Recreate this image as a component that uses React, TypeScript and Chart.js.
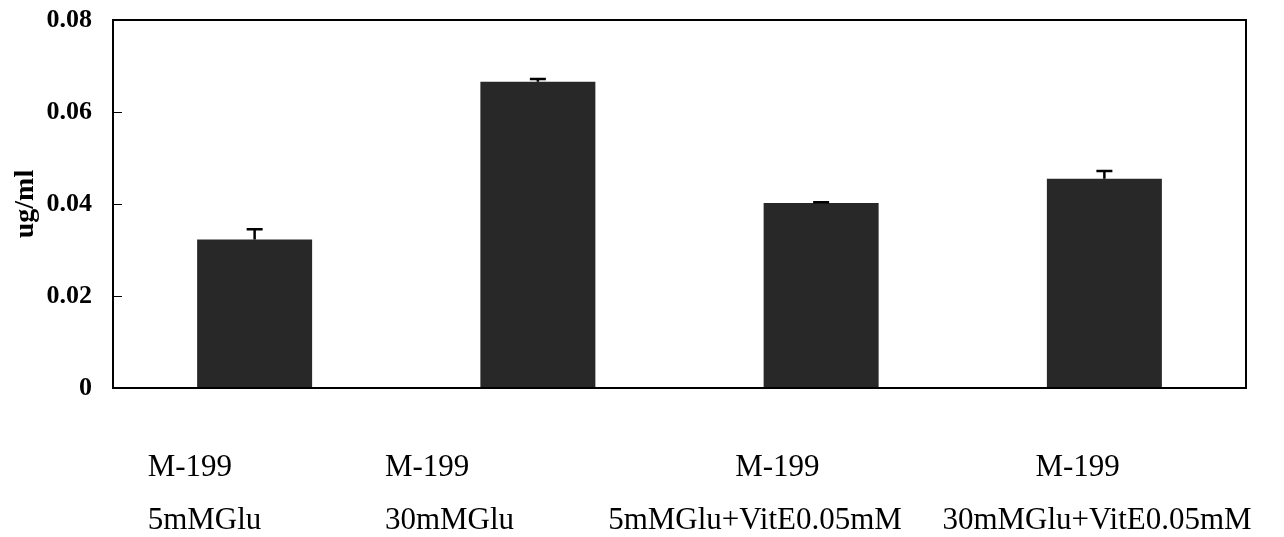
import React, { useEffect, useRef } from "react";
import { Chart, registerables } from "chart.js";

Chart.register(...registerables);

const categories: string[][] = [
  ["M-199", "5mMGlu"],
  ["M-199", "30mMGlu"],
  ["M-199", "5mMGlu+VitE0.05mM"],
  ["M-199", "30mMGlu+VitE0.05mM"],
];
const values: number[] = [0.0323, 0.0666, 0.0402, 0.0455];
const errors: number[] = [0.0022, 0.0006, 0.0002, 0.0017];
const yTicks: number[] = [0, 0.02, 0.04, 0.06, 0.08];
const yTitle = "ug/ml";

// layout: left-edge offset of each label line, relative to the category centre
const labelLineOffsets: number[][] = [
  [-107, -107],
  [-153, -153],
  [-86, -213],
  [-69, -162],
];
const labelLineY = [468, 521];

const serif = "'Liberation Serif', 'Times New Roman', serif";

const framePlugin = {
  id: "frameAndErrors",
  afterDatasetsDraw(chart: any) {
    const { ctx, chartArea } = chart;
    const y = chart.scales.y;
    const x = chart.scales.x;
    ctx.save();
    ctx.strokeStyle = "#000";
    ctx.lineWidth = 1;
    yTicks.forEach((t) => {
      const py = Math.round(y.getPixelForValue(t)) + 0.5;
      ctx.beginPath();
      ctx.moveTo(chartArea.left, py);
      ctx.lineTo(chartArea.left + 9, py);
      ctx.stroke();
    });
    const meta = chart.getDatasetMeta(0);
    ctx.lineWidth = 2.5;
    meta.data.forEach((bar: any, i: number) => {
      const bx = bar.x;
      const top = y.getPixelForValue(values[i]);
      const hi = y.getPixelForValue(values[i] + errors[i]);
      ctx.beginPath();
      ctx.moveTo(bx, top);
      ctx.lineTo(bx, hi);
      ctx.moveTo(bx - 8, hi);
      ctx.lineTo(bx + 8, hi);
      ctx.stroke();
    });
    ctx.lineWidth = 2;
    ctx.strokeRect(
      chartArea.left,
      chartArea.top,
      chartArea.right - chartArea.left,
      chartArea.bottom - chartArea.top
    );
    ctx.fillStyle = "#000";
    ctx.font = `31px ${serif}`;
    ctx.textAlign = "left";
    ctx.textBaseline = "middle";
    categories.forEach((lines, i) => {
      const cx = x.getPixelForValue(i);
      lines.forEach((line, j) => {
        ctx.fillText(line, cx + labelLineOffsets[i][j], labelLineY[j]);
      });
    });
    ctx.restore();
  },
};

export default function App() {
  const ref = useRef<HTMLCanvasElement | null>(null);
  useEffect(() => {
    if (!ref.current) return;
    const chart = new Chart(ref.current, {
      type: "bar",
      data: {
        labels: categories.map((c) => c.join(" ")),
        datasets: [
          {
            data: values,
            backgroundColor: "#282828",
            borderWidth: 0,
            barPercentage: 0.406,
            categoryPercentage: 1,
          },
        ],
      },
      options: {
        animation: false,
        responsive: true,
        maintainAspectRatio: false,
        layout: { padding: { top: 20, right: 38, left: 0, bottom: 0 } },
        plugins: {
          legend: { display: false },
          tooltip: { enabled: false },
        },
        scales: {
          x: {
            grid: { display: false },
            border: { display: false },
            ticks: { display: false },
            afterFit: (s: any) => {
              s.height = 149;
              s.paddingLeft = 0;
              s.paddingRight = 0;
            },
          },
          y: {
            min: 0,
            max: 0.08,
            grid: { display: false },
            border: { display: false },
            afterBuildTicks: (s: any) => {
              s.ticks = yTicks.map((v) => ({ value: v }));
            },
            ticks: {
              color: "#000",
              font: { family: serif, size: 26, weight: "bold" },
              padding: 13,
              callback: (v: any) => String(v),
            },
            title: {
              display: true,
              text: yTitle,
              color: "#000",
              font: { family: serif, size: 28, weight: "bold" },
              padding: { top: 9, bottom: 0 },
            },
            afterFit: (s: any) => {
              s.width = 113;
              s.paddingTop = 0;
              s.paddingBottom = 0;
            },
          },
        },
      },
      plugins: [framePlugin],
    });
    return () => chart.destroy();
  }, []);
  return (
    <div style={{ position: "fixed", left: 0, top: 0, width: 1284, height: 537, background: "#fff" }}>
      <canvas ref={ref} />
    </div>
  );
}
